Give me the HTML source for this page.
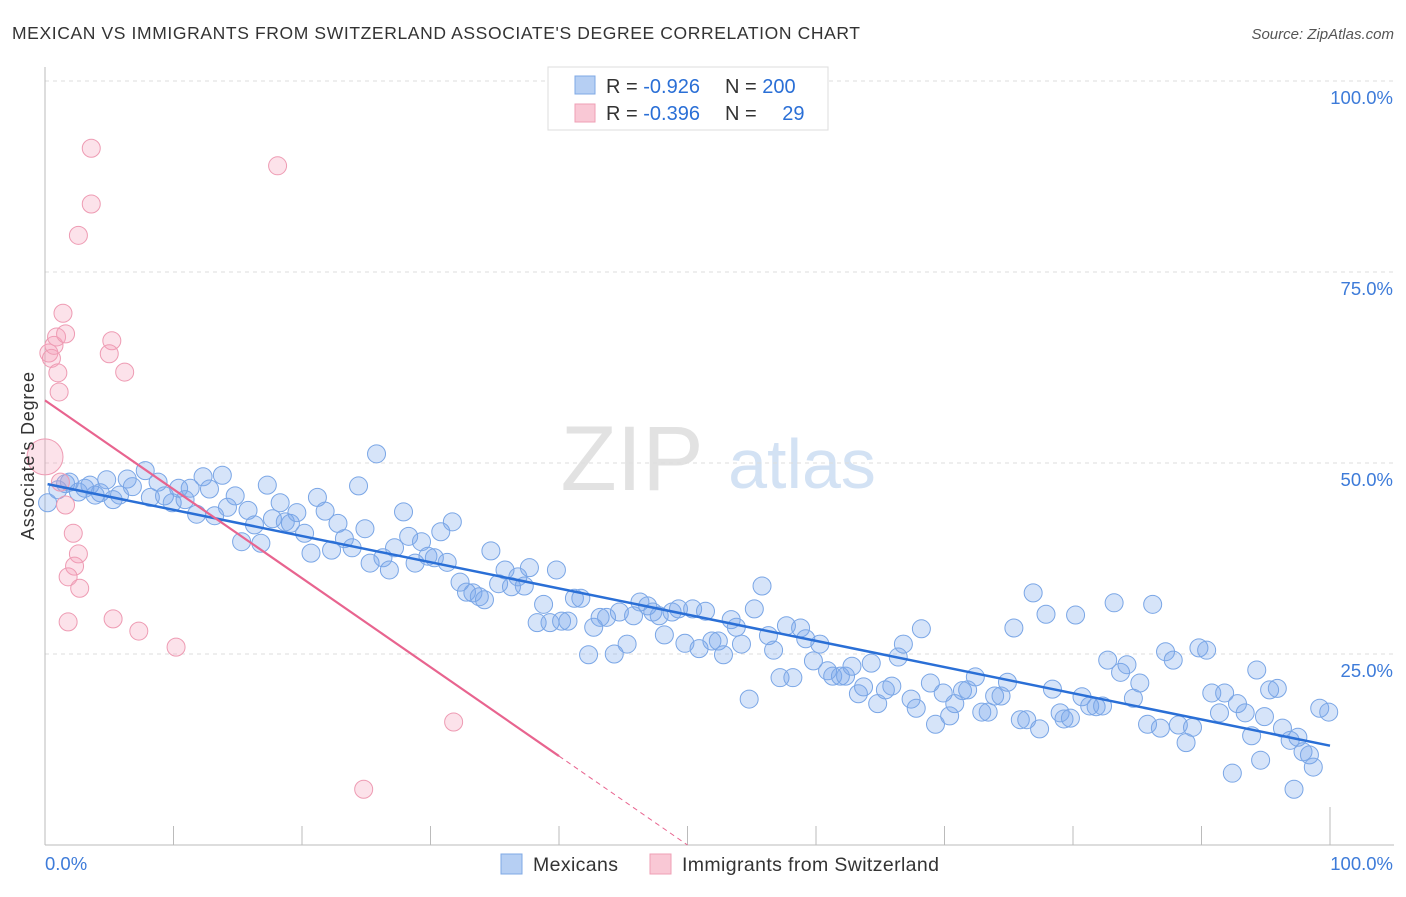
<!DOCTYPE html>
<html><head><meta charset="utf-8"><style>
body{margin:0;background:#fff;font-family:"Liberation Sans",sans-serif;}
svg text{font-family:"Liberation Sans",sans-serif;}
</style></head><body>
<svg id="chart" width="1406" height="892" viewBox="0 0 1406 892" xmlns="http://www.w3.org/2000/svg">
<text x="12" y="39" font-size="17.5" fill="#333" textLength="848" lengthAdjust="spacing">MEXICAN VS IMMIGRANTS FROM SWITZERLAND ASSOCIATE'S DEGREE CORRELATION CHART</text>
<text x="1394" y="39" font-size="15" fill="#555" font-style="italic" text-anchor="end">Source: ZipAtlas.com</text>
<g>
<text x="632" y="490" font-size="92" fill="#e2e2e2" font-family="Liberation Serif" text-anchor="middle">ZIP</text>
<text x="802" y="488" font-size="70" fill="#d3e2f4" text-anchor="middle">atlas</text>
</g>
<g id="grid"></g>
<g id="axes"></g>
<g id="pts"></g>
<g id="lines"></g>
<text transform="translate(34,456) rotate(-90)" font-size="18" fill="#333" text-anchor="middle" textLength="168">Associate's Degree</text>
<g>
<rect x="548" y="67" width="280" height="63" fill="#fff" stroke="#ddd"/>
<rect x="575" y="76" width="20" height="18" fill="#b6cff3" stroke="#7fa8e4"/>
<rect x="575" y="104" width="20" height="18" fill="#f9c8d5" stroke="#ef9fb5"/>
<text x="606" y="93" font-size="20" fill="#333">R = <tspan fill="#2a6fd6">-0.926</tspan></text>
<text x="725" y="93" font-size="20" fill="#333">N = <tspan fill="#2a6fd6">200</tspan></text>
<text x="606" y="120" font-size="20" fill="#333">R = <tspan fill="#2a6fd6">-0.396</tspan></text>
<text x="725" y="120" font-size="20" fill="#333">N = <tspan fill="#2a6fd6" dx="20">29</tspan></text>
</g>
<g>
<rect x="501" y="854" width="21" height="20" fill="#b6cff3" stroke="#7fa8e4"/>
<text x="533" y="871" font-size="19.5" fill="#333" textLength="85">Mexicans</text>
<rect x="650" y="854" width="21" height="20" fill="#f9c8d5" stroke="#ef9fb5"/>
<text x="682" y="871" font-size="19.5" fill="#333" textLength="257">Immigrants from Switzerland</text>
</g>
</svg>
<script>
const blueX=[0.2,1.0,1.6,1.9,2.6,3.1,3.5,3.9,4.3,4.8,5.3,5.8,6.4,6.8,7.8,8.2,8.8,9.3,9.9,10.4,10.9,11.3,11.8,12.3,12.8,13.2,13.8,14.2,14.8,15.3,15.8,16.3,16.8,17.3,17.7,18.3,18.7,19.1,19.6,20.2,20.7,21.2,21.8,22.3,22.8,23.3,23.9,24.4,24.9,25.3,25.8,26.3,26.8,27.2,27.9,28.3,28.8,29.3,29.8,30.3,30.8,31.3,31.7,32.3,32.8,33.3,33.8,34.2,34.7,35.3,35.8,36.3,36.8,37.3,37.7,38.3,38.8,39.3,39.8,40.2,40.7,41.2,41.7,42.3,42.7,43.2,43.7,44.3,44.7,45.3,45.8,46.3,46.9,47.3,47.8,48.2,48.8,49.3,49.8,50.4,50.9,51.4,51.9,52.4,52.8,53.4,53.8,54.2,54.8,55.2,55.8,56.3,56.7,57.2,57.7,58.2,58.8,59.2,59.8,60.3,60.9,61.3,61.9,62.3,62.8,63.3,63.7,64.3,64.8,65.4,65.9,66.4,66.8,67.4,67.8,68.2,68.9,69.3,69.9,70.4,70.8,71.4,71.8,72.4,72.9,73.4,73.9,74.4,74.9,75.4,75.9,76.4,76.9,77.4,77.9,78.4,79.0,79.3,79.8,80.2,80.7,81.3,81.8,82.3,82.7,83.2,83.7,84.2,84.7,85.2,85.8,86.2,86.8,87.2,87.8,88.2,88.8,89.3,89.8,90.4,90.8,91.4,91.8,92.4,92.8,93.4,93.9,94.3,94.9,95.3,95.9,96.3,96.9,97.5,97.9,98.4,98.7,99.2,99.9,97.2,94.6];
const blueY=[44.8,46.5,47.3,47.5,46.2,46.7,47.1,45.8,46.1,47.8,45.2,45.8,47.9,46.9,49.0,45.5,47.5,45.7,44.8,46.7,45.2,46.7,43.3,48.2,46.6,43.1,48.4,44.2,45.7,39.7,43.8,41.9,39.5,47.1,42.7,44.8,42.3,42.1,43.5,40.8,38.2,45.5,43.7,38.6,42.1,40.1,38.9,47.0,41.4,36.9,51.2,37.6,36.0,38.9,43.6,40.4,36.9,39.7,37.8,37.6,41.0,37.0,42.3,34.4,33.1,33.0,32.5,32.1,38.5,34.2,36.0,33.8,35.1,33.9,36.3,29.1,31.5,29.1,36.0,29.3,29.3,32.3,32.3,24.9,28.5,29.8,29.8,25.0,30.5,26.3,30.0,31.8,31.3,30.5,30.0,27.5,30.5,30.9,26.4,30.9,25.7,30.6,26.7,26.7,24.9,29.5,28.5,26.3,19.1,30.9,33.9,27.4,25.5,21.9,28.7,21.9,28.4,27.0,24.1,26.3,22.8,22.1,22.1,22.1,23.4,19.8,20.7,23.8,18.5,20.3,20.8,24.6,26.3,19.1,17.9,28.3,21.2,15.8,19.9,16.9,18.5,20.2,20.3,22.0,17.4,17.4,19.5,19.5,21.3,28.4,16.4,16.4,33.0,15.2,30.2,20.4,17.3,16.5,16.6,30.1,19.4,18.2,18.1,18.2,24.2,31.7,22.6,23.6,19.2,21.2,15.8,31.5,15.3,25.3,24.2,15.7,13.4,15.4,25.8,25.5,19.9,17.3,19.9,9.4,18.5,17.3,14.3,22.9,16.8,20.3,20.5,15.3,13.7,14.1,12.2,11.8,10.2,17.9,17.4,7.3,11.1];
const pinkX=[0.3,0.5,0.7,0.9,1.1,1.0,1.4,1.6,0,1.2,1.6,2.2,2.6,2.3,1.8,2.7,1.8,2.6,3.6,3.6,5.2,5.0,6.2,5.3,7.3,10.2,18.1,31.8,24.8];
const pinkY=[64.4,63.7,65.4,66.5,59.3,61.8,69.6,66.9,50.8,47.5,44.5,40.8,38.1,36.5,35.1,33.6,29.2,79.8,83.9,91.2,66.0,64.3,61.9,29.6,28.0,25.9,88.9,16.1,7.3];
const blueTrend=[47.3,13.0];
const pinkTrend=[58.2,-1.164];
const yTicks=[25,50,75,100];
const yTickLabels=["25.0%","50.0%","75.0%","100.0%"];
const xTicks=[0,10,20,30,40,50,60,70,80,90,100];

const NS="http://www.w3.org/2000/svg";
const X=v=>45+v*12.85, Y=v=>845-v*7.64;
function mk(tag,attrs,parent){const e=document.createElementNS(NS,tag);for(const k in attrs)e.setAttribute(k,attrs[k]);document.getElementById(parent).appendChild(e);return e;}
yTicks.forEach((t,i)=>{
 const g=mk('line',{x1:45,x2:1394,y1:Y(t),y2:Y(t),stroke:'#ddd','stroke-dasharray':'4,4'},'grid');
 
 
 const tx=mk('text',{x:1393,y:Y(t)+23,'font-size':18.5,fill:'#3d7bd9','text-anchor':'end'},'grid');
 tx.textContent=yTickLabels[i];
 
 
});
const ax=mk('line',{x1:45,x2:1394,y1:845,y2:845,stroke:'#bbb'},'axes');


const ay=mk('line',{x1:45,x2:45,y1:67,y2:845,stroke:'#bbb'},'axes');


xTicks.forEach(t=>{if(t===0)return;
 const l=mk('line',{x1:X(t),x2:X(t),y1:t===100?807:826,y2:845,stroke:'#bbb'},'axes');
 
 
});
[["0.0%",45,'start'],["100.0%",1393,'end']].forEach(a=>{
 const t=mk('text',{x:a[1],y:870,'font-size':18.5,fill:'#3d7bd9','text-anchor':a[2]},'axes');t.textContent=a[0];
 
 
});
blueX.forEach((v,i)=>{
 const c=mk('circle',{cx:X(v),cy:Y(blueY[i]),r:9,fill:'rgba(120,165,235,0.3)',stroke:'#7aa6e6','stroke-width':1},'pts');
 
 
});
pinkX.forEach((v,i)=>{
 const c=mk('circle',{cx:X(v),cy:Y(pinkY[i]),r:(v===0?18:9),fill:'rgba(245,160,185,0.3)',stroke:'#ee9bb3','stroke-width':1},'pts');
 
 
});
const bl=mk('line',{x1:X(0.2),y1:Y(blueTrend[0]+(blueTrend[1]-blueTrend[0])*0.002),x2:X(100),y2:Y(blueTrend[1]),stroke:'#2a6fd6','stroke-width':2.5},'lines');


const pf=x=>pinkTrend[0]+pinkTrend[1]*x;
const pl=mk('line',{x1:X(0),y1:Y(pf(0)),x2:X(40),y2:Y(pf(40)),stroke:'#e8648f','stroke-width':2.2},'lines');


const pd=mk('line',{x1:X(40),y1:Y(pf(40)),x2:X(50),y2:Y(Math.max(0,pf(50))),stroke:'#e8648f','stroke-width':1,'stroke-dasharray':'5,4'},'lines');


</script>
</body></html>
